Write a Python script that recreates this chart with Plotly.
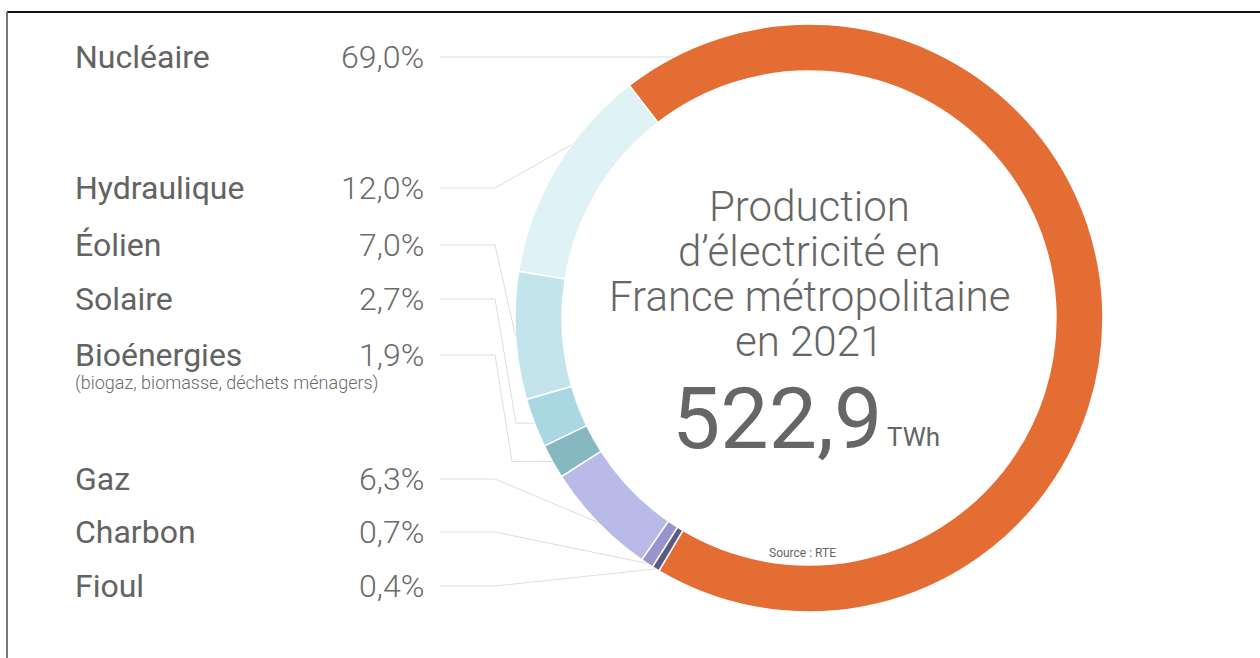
import math
import plotly.graph_objects as go

# ---------------- data ----------------
sources = ["Nucléaire", "Hydraulique", "Éolien", "Solaire", "Bioénergies", "Gaz", "Charbon", "Fioul"]
shares = [69.0, 12.0, 7.0, 2.7, 1.9, 6.3, 0.7, 0.4]
share_text = ["69,0%", "12,0%", "7,0%", "2,7%", "1,9%", "6,3%", "0,7%", "0,4%"]
sub_label = "(biogaz, biomasse, déchets ménagers)"
total_value = "522,9"
total_unit = "TWh"
title_lines = ["Production", "d’électricité en", "France métropolitaine", "en 2021"]
source_note = "Source : RTE"

# ---------------- styles / layout ----------------
colors = ["#E46D33", "#DFF3F6", "#C2E4EA", "#A9D8E2", "#86B8C2", "#BABAE8", "#9A94CC", "#5B5A82"]
W, H = 1260, 658
CX, CY, R = 809, 318, 294
HOLE = 0.84
ROT_BOUNDARY = 127.7  # math angle (deg) of boundary between first and second slice
label_y = [57, 188, 245, 299, 355, 479, 532, 586]
anchor_frac = [None, 0.375, 0.5, 0.5, 0.5, 0.5, 0.5, 0.5]
second_elbow_x = [None, None, None, 516, 512, None, None, None]
NAME_X, PCT_X, LINE_X0, ELBOW_X = 73, 426, 440, 495
FONT = "Roboto"
NAME_COL = "#636363"
PCT_COL = "#6b6b6b"
LINE_COL = "#dddddd"

fig = go.Figure()

fig.add_trace(go.Pie(
    labels=sources, values=shares, sort=False, direction="counterclockwise",
    rotation=90 - ROT_BOUNDARY, hole=HOLE,
    marker=dict(colors=colors, line=dict(color="white", width=1.5)),
    textinfo="none", hoverinfo="label+percent", showlegend=False,
    domain=dict(x=[(CX - R) / W, (CX + R) / W], y=[1 - (CY + R) / H, 1 - (CY - R) / H]),
))

# invisible pixel-space axes for annotations & lines
fig.add_trace(go.Scatter(x=[0, W], y=[0, H], mode="markers", marker=dict(opacity=0),
                         hoverinfo="skip", showlegend=False))

shapes = []
annotations = []
total = sum(shares)

# leader lines computed from slice geometry
cum = 0.0
for i, (name, v) in enumerate(zip(sources, shares)):
    y = label_y[i]
    if i == 0:
        x_end = CX - math.sqrt(R ** 2 - (CY - y) ** 2)
        pts = [(LINE_X0, y), (x_end, y)]
    else:
        a0 = ROT_BOUNDARY + 360 * cum / total
        ang = math.radians(a0 + anchor_frac[i] * 360 * v / total)
        ex, ey = CX + R * math.cos(ang), CY - R * math.sin(ang)
        pts = [(LINE_X0, y), (ELBOW_X, y)]
        if second_elbow_x[i] is not None:
            pts.append((second_elbow_x[i], ey))
        pts.append((ex, ey))
        cum += v
    path = "M " + " L ".join(f"{px:.1f},{py:.1f}" for px, py in pts)
    shapes.append(dict(type="path", path=path, xref="x", yref="y",
                       line=dict(color=LINE_COL, width=1), layer="above"))

    annotations.append(dict(x=NAME_X, y=y, xref="x", yref="y", text=name, showarrow=False,
                            xanchor="left", yanchor="middle",
                            font=dict(family=FONT, size=32, color=NAME_COL)))
    annotations.append(dict(x=PCT_X, y=y, xref="x", yref="y", text=share_text[i], showarrow=False,
                            xanchor="right", yanchor="middle",
                            font=dict(family=FONT, size=32, color=PCT_COL, weight=300)))

annotations.append(dict(x=NAME_X, y=383, xref="x", yref="y", text=sub_label, showarrow=False,
                        xanchor="left", yanchor="middle",
                        font=dict(family=FONT, size=18, color=PCT_COL, weight=300)))

# centre text
for k, line in enumerate(title_lines):
    annotations.append(dict(x=CX, y=206 + 45 * k, xref="x", yref="y", text=line, showarrow=False,
                            xanchor="center", yanchor="middle",
                            font=dict(family=FONT, size=42, color="#666666", weight=300)))
annotations.append(dict(x=777, y=418, xref="x", yref="y", text=total_value, showarrow=False,
                        xanchor="center", yanchor="middle",
                        font=dict(family=FONT, size=86, color="#666666")))
annotations.append(dict(x=885, y=437, xref="x", yref="y", text=total_unit, showarrow=False,
                        xanchor="left", yanchor="middle",
                        font=dict(family=FONT, size=26, color="#666666")))
annotations.append(dict(x=CX - 7, y=553, xref="x", yref="y", text=source_note, showarrow=False,
                        xanchor="center", yanchor="middle",
                        font=dict(family=FONT, size=12, color="#666666")))

# frame lines
shapes.append(dict(type="line", xref="x", yref="y", x0=7, x1=W, y0=12, y1=12,
                   line=dict(color="#111111", width=2)))
shapes.append(dict(type="line", xref="x", yref="y", x0=7, x1=7, y0=12, y1=H,
                   line=dict(color="#777777", width=2)))

fig.update_layout(
    width=W, height=H, margin=dict(l=0, r=0, t=0, b=0),
    paper_bgcolor="white", plot_bgcolor="rgba(0,0,0,0)",
    xaxis=dict(range=[0, W], visible=False, fixedrange=True),
    yaxis=dict(range=[H, 0], visible=False, fixedrange=True),
    shapes=shapes, annotations=annotations, showlegend=False,
)

fig.write_html("out.html", config={"displayModeBar": False},
               post_script="document.body.style.margin='0';")
